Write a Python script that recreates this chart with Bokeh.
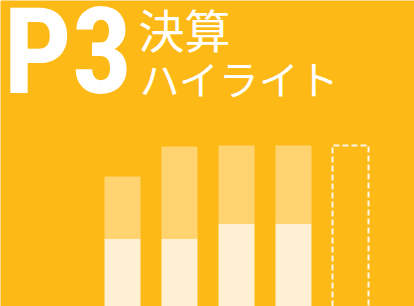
from bokeh.plotting import figure
from bokeh.models import Range1d, Label, ColumnDataSource
from bokeh.embed import file_html
from bokeh.resources import INLINE

# ---- data ----
periods = ["FY1", "FY2", "FY3", "FY4"]
lower_vals = [68, 68, 83, 83]
total_vals = [130, 160, 161, 161]
forecast_total = 161
title_big = "P3"
title_line1 = "決算"
title_line2 = "ハイライト"

BG = "#FDB916"
UPPER = "#FFD470"
LOWER = "#FFF0D4"

W, H = 414, 306
p = figure(width=W, height=H, output_backend="svg", toolbar_location=None,
           x_range=Range1d(-2.1404, -2.1404 + W / 57.0), y_range=Range1d(0, H),
           min_border=0, outline_line_color=None)
p.axis.visible = False
p.grid.visible = False
p.background_fill_color = BG
p.border_fill_color = BG

xs = list(range(len(periods)))
bw = 36 / 57.0
src = ColumnDataSource(dict(x=xs, lower=lower_vals, total=total_vals))
p.vbar(x="x", width=bw, bottom=0, top="lower", source=src,
       fill_color=LOWER, line_color=None)
p.vbar(x="x", width=bw, bottom="lower", top="total", source=src,
       fill_color=UPPER, line_color=None)

fx = len(periods)
p.line(x=[fx - bw / 2, fx - bw / 2, fx + bw / 2, fx + bw / 2],
       y=[0, forecast_total, forecast_total, 0],
       line_color="white", line_width=2, line_dash="6 3", alpha=0.9)

p.add_layout(Label(x=3, y=H + 19, x_units="screen", y_units="screen",
                   text=title_big, text_font="Roboto Condensed",
                   text_font_style="bold", text_font_size="120px",
                   text_color="white", text_baseline="top"))
p.add_layout(Label(x=138, y=H + 6, x_units="screen", y_units="screen",
                   text=title_line1, text_font="Noto Sans CJK JP",
                   text_font_size="46px", text_color="white",
                   text_baseline="top"))
p.add_layout(Label(x=139, y=H - 48, x_units="screen", y_units="screen",
                   text=title_line2, text_font="Noto Sans CJK JP",
                   text_font_size="40px", text_color="white",
                   text_baseline="top"))

html = file_html(p, INLINE)
html = html.replace("<body>", '<body style="margin:0;background:%s;overflow:hidden">' % BG, 1)
open("out.html", "w").write(html)
